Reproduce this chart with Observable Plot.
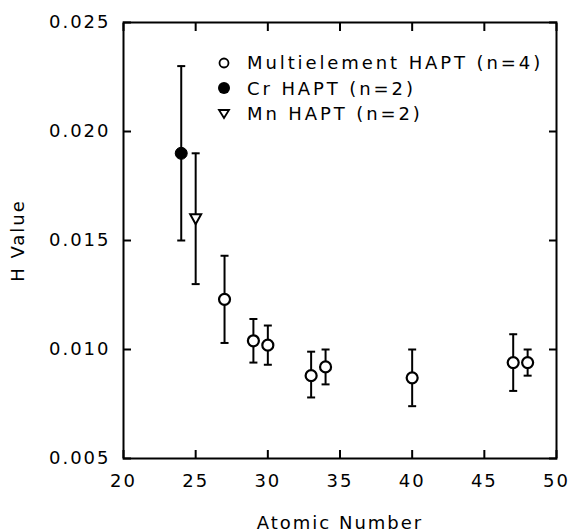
<!DOCTYPE html>
<html>
<head>
<meta charset="utf-8">
<script src="https://cdn.jsdelivr.net/npm/d3@7"></script>
<script src="https://cdn.jsdelivr.net/npm/@observablehq/plot@0.6"></script>
<style>
  body { margin: 0; background: #fff; }
  #wrap { position: relative; width: 571px; height: 532px; }
  #legend { position: absolute; left: 216px; top: 50px; font-family: "DejaVu Sans", sans-serif; font-size: 18px; letter-spacing: 2.9px; color: #000; }
  #legend .row { height: 25.5px; display: flex; align-items: center; white-space: pre; }
  #legend svg { width: 16px; height: 16px; margin-right: 15px; }
</style>
</head>
<body>
<div id="wrap"><div id="legend"></div></div>
<script>
// Multielement HAPT (n=4)
const multiX  = [27, 29, 30, 33, 34, 40, 47, 48];
const multiH  = [0.0123, 0.0104, 0.0102, 0.0088, 0.0092, 0.0087, 0.0094, 0.0094];
const multiLo = [0.0103, 0.0094, 0.0093, 0.0078, 0.0084, 0.0074, 0.0081, 0.0088];
const multiHi = [0.0143, 0.0114, 0.0111, 0.0099, 0.0100, 0.0100, 0.0107, 0.0100];
// Cr HAPT (n=2)
const crX = [24], crH = [0.0190], crLo = [0.0150], crHi = [0.0230];
// Mn HAPT (n=2)
const mnX = [25], mnH = [0.0160], mnLo = [0.0130], mnHi = [0.0190];

const seriesNames = ["Multielement HAPT (n=4)", "Cr HAPT (n=2)", "Mn HAPT (n=2)"];
const xTicks = [20, 25, 30, 35, 40, 45, 50];
const yTicks = [0.005, 0.010, 0.015, 0.020, 0.025];

const toRows = (xs, hs, los, his, s) => xs.map((x, i) => ({x, h: hs[i], lo: los[i], hi: his[i], s}));
const multi = toRows(multiX, multiH, multiLo, multiHi, seriesNames[0]);
const cr = toRows(crX, crH, crLo, crHi, seriesNames[1]);
const mn = toRows(mnX, mnH, mnLo, mnHi, seriesNames[2]);
const all = [...multi, ...cr, ...mn];

const capSymbol = {draw(ctx) { ctx.moveTo(-4, 0); ctx.lineTo(4, 0); }};
const triDown = {draw(ctx) { ctx.moveTo(-5.5, -4.5); ctx.lineTo(5.5, -4.5); ctx.lineTo(0, 5.5); ctx.closePath(); }};

const chart = Plot.plot({
  width: 571, height: 532,
  marginLeft: 123, marginRight: 15, marginTop: 22, marginBottom: 74,
  style: {fontFamily: "DejaVu Sans, sans-serif", fontSize: "18px", letterSpacing: "2px", color: "#000", background: "#fff"},
  x: {domain: [20, 50]},
  y: {domain: [0.005, 0.025]},
  marks: [
    Plot.ruleX(all, {x: "x", y1: "lo", y2: "hi", stroke: "black", strokeWidth: 2}),
    Plot.dot(all, {x: "x", y: "lo", symbol: capSymbol, stroke: "black", strokeWidth: 2}),
    Plot.dot(all, {x: "x", y: "hi", symbol: capSymbol, stroke: "black", strokeWidth: 2}),
    Plot.dot(multi, {x: "x", y: "h", r: 5.5, fill: "white", stroke: "black", strokeWidth: 2.2}),
    Plot.dot(cr, {x: "x", y: "h", r: 6, fill: "black", stroke: "black", strokeWidth: 1}),
    Plot.dot(mn, {x: "x", y: "h", symbol: triDown, fill: "white", stroke: "black", strokeWidth: 2}),
    Plot.axisX(xTicks, {anchor: "bottom", tickSize: 0, tickPadding: 16, tickFormat: d => String(d), label: "Atomic Number", labelAnchor: "center", labelOffset: 70, labelArrow: "none", letterSpacing: "2.4px"}),
    Plot.axisX(xTicks, {anchor: "bottom", tickSize: 8, dy: -8, strokeWidth: 2, tickFormat: () => "", label: null}),
    Plot.axisX(xTicks, {anchor: "top", tickSize: 8, dy: 8, strokeWidth: 2, tickFormat: () => "", label: null}),
    Plot.axisY(yTicks, {anchor: "left", tickSize: 0, tickPadding: 13, tickFormat: d3.format(".3f"), label: "H Value", labelAnchor: "center", labelOffset: 112, labelArrow: "none"}),
    Plot.axisY(yTicks, {anchor: "left", tickSize: 8, dx: 8, strokeWidth: 2, tickFormat: () => "", label: null}),
    Plot.axisY(yTicks, {anchor: "right", tickSize: 8, dx: -8, strokeWidth: 2, tickFormat: () => "", label: null}),
    Plot.frame({stroke: "black", strokeWidth: 2})
  ]
});
const wrap = document.getElementById("wrap");
wrap.insertBefore(chart, wrap.firstChild);

const legendSymbols = [
  '<circle cx="8" cy="8" r="4.5" fill="white" stroke="black" stroke-width="1.8"/>',
  '<circle cx="8" cy="8" r="6" fill="black"/>',
  '<path d="M3,4 L13,4 L8,12 Z" fill="white" stroke="black" stroke-width="1.8"/>'
];
const legend = document.getElementById("legend");
seriesNames.forEach((name, i) => {
  const row = document.createElement("div");
  row.className = "row";
  row.innerHTML = `<svg viewBox="0 0 16 16">${legendSymbols[i]}</svg><span>${name}</span>`;
  legend.appendChild(row);
});
</script>
</body>
</html>
